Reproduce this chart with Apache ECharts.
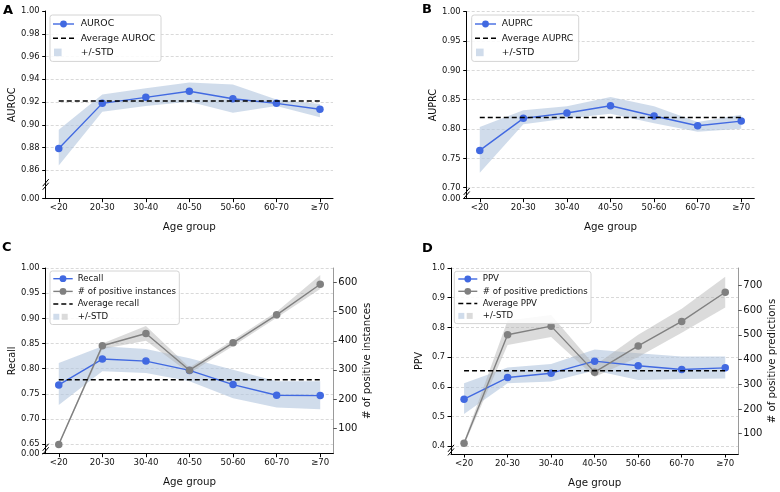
<!DOCTYPE html>
<html><head><meta charset="utf-8">
<script src="https://cdn.jsdelivr.net/npm/echarts@6/dist/echarts.min.js"></script>
<style>html,body{margin:0;padding:0;background:#fff}#c{width:780px;height:492px}</style>
</head><body><div id="c"></div>
<script>
// ---------------- data ----------------
const categories = ['<20', '20-30', '30-40', '40-50', '50-60', '60-70', '≥70'];

const aurocMean  = [0.8791, 0.9188, 0.9241, 0.9294, 0.9229, 0.9188, 0.9136];
const aurocUpper = [0.8956, 0.9267, 0.9320, 0.9371, 0.9354, 0.9223, 0.9182];
const aurocLower = [0.8641, 0.9115, 0.9165, 0.9203, 0.9106, 0.9165, 0.9065];
const aurocAverage = 0.9209;
const aurocTicks = [0.86, 0.88, 0.90, 0.92, 0.94, 0.96, 0.98, 1.00];
const aurocGridlines = [0.86, 0.88, 0.90, 0.92, 0.94, 0.96, 0.98];

const auprcMean  = [0.7636, 0.8182, 0.8273, 0.8398, 0.8222, 0.8057, 0.8136];
const auprcUpper = [0.8034, 0.8320, 0.8390, 0.8545, 0.8390, 0.8120, 0.8244];
const auprcLower = [0.7256, 0.8080, 0.8180, 0.8260, 0.8100, 0.7955, 0.8006];
const auprcAverage = 0.8199;
const auprcTicks = [0.70, 0.75, 0.80, 0.85, 0.90, 0.95, 1.00];
const auprcGridlines = [0.70, 0.75, 0.80, 0.85, 0.90, 0.95, 1.00];

const recallMean  = [0.7679, 0.8192, 0.8152, 0.7967, 0.7685, 0.7474, 0.7467];
const recallUpper = [0.8113, 0.8447, 0.8390, 0.8210, 0.7980, 0.7750, 0.7750];
const recallLower = [0.7281, 0.7950, 0.7914, 0.7750, 0.7414, 0.7228, 0.7195];
const recallAverage = 0.7781;
const recallTicks = [0.65, 0.70, 0.75, 0.80, 0.85, 0.90, 0.95, 1.00];
const recallGridlines = [0.65, 0.70, 0.75, 0.80, 0.85, 0.90, 0.95, 1.00];

const positiveInstances      = [44, 383, 425, 299, 393, 489, 594];
const positiveInstancesUpper = [48, 391, 451, 308, 403, 500, 626];
const positiveInstancesLower = [40, 372, 400, 288, 382, 479, 578];
const instancesTicks = [100, 200, 300, 400, 500, 600];

const ppvMean  = [0.5583, 0.6314, 0.6460, 0.6865, 0.6710, 0.6585, 0.6640];
const ppvUpper = [0.6123, 0.6650, 0.6770, 0.7260, 0.7130, 0.7020, 0.7020];
const ppvLower = [0.5090, 0.6120, 0.6180, 0.6550, 0.6230, 0.6260, 0.6280];
const ppvAverage = 0.654;
const ppvTicks = [0.4, 0.5, 0.6, 0.7, 0.8, 0.9, 1.0];
const ppvGridlines = [0.4, 0.5, 0.6, 0.7, 0.8, 0.9, 1.0];

const positivePredictions      = [61, 500, 535, 349, 455, 554, 672];
const positivePredictionsUpper = [70, 558, 580, 376, 500, 605, 735];
const positivePredictionsLower = [53, 459, 491, 329, 410, 508, 610];
const predictionsTicks = [100, 200, 300, 400, 500, 600, 700];

// ---------------- styling ----------------
const FONT = 'DejaVu Sans';
const TXT = '#111';
const BLUE = '#4169e1';
const GRAY = '#808080';
const BLUE_BAND = 'rgba(176,196,222,0.6)';
const GRAY_BAND = 'rgba(175,175,175,0.45)';
const GRID_COLOR = '#cfcfcf';
const catIdx = categories.map((_, i) => i);

const panels = [
  { letter: 'A', letterPos: [3, 4], grid: { left: 45.7, top: 11, width: 287.3, height: 187.7 },
    yMin: 0.835, yMax: 1.0, ticks: aurocTicks, gridlines: aurocGridlines, digits: 2, zero: '0.00',
    mean: aurocMean, upper: aurocUpper, lower: aurocLower, avg: aurocAverage,
    yName: 'AUROC', yNameSize: 9.6, yNameGap: 26, tickSize: 8.4,
    legend: { x: 50, y: 15, w: 111, rowH: 14.2, first: 9, font: 9.3, iconL: 3, iconR: 24, textX: 30.7,
      labels: ['AUROC', 'Average AUROC', '+/-STD'] } },
  { letter: 'B', letterPos: [422, 3], grid: { left: 466.7, top: 11.7, width: 287.6, height: 187 },
    yMin: 0.6813, yMax: 1.0, ticks: auprcTicks, gridlines: auprcGridlines, digits: 2, zero: '0.00',
    mean: auprcMean, upper: auprcUpper, lower: auprcLower, avg: auprcAverage,
    yName: 'AUPRC', yNameSize: 9.6, yNameGap: 26, tickSize: 8.4,
    legend: { x: 471.7, y: 15, w: 107, rowH: 14.2, first: 9, font: 9.2, iconL: 3.3, iconR: 24.3, textX: 30,
      labels: ['AUPRC', 'Average AUPRC', '+/-STD'] } },
  { letter: 'C', letterPos: [2, 241], grid: { left: 45.7, top: 268, width: 287.6, height: 185.7 },
    yMin: 0.6313, yMax: 1.0, ticks: recallTicks, gridlines: recallGridlines, digits: 2, zero: '0.00',
    mean: recallMean, upper: recallUpper, lower: recallLower, avg: recallAverage,
    yName: 'Recall', yNameSize: 9.6, yNameGap: 26.5, tickSize: 8.4,
    count: positiveInstances, countUpper: positiveInstancesUpper, countLower: positiveInstancesLower,
    rMin: 12, rMax: 650, rTicks: instancesTicks, rName: '# of positive instances',
    legend: { x: 50, y: 271, w: 129.3, rowH: 12.7, first: 7.7, font: 8.6, iconL: 3.3, iconR: 22.7, textX: 27.7,
      labels: ['Recall', '# of positive instances', 'Average recall', '+/-STD'] } },
  { letter: 'D', letterPos: [422, 242], grid: { left: 451, top: 268, width: 287.3, height: 186 },
    yMin: 0.374, yMax: 1.0, ticks: ppvTicks, gridlines: ppvGridlines, digits: 1, zero: '0.0',
    mean: ppvMean, upper: ppvUpper, lower: ppvLower, avg: ppvAverage,
    yName: 'PPV', yNameSize: 9.6, yNameGap: 26.5, tickSize: 8.2,
    count: positivePredictions, countUpper: positivePredictionsUpper, countLower: positivePredictionsLower,
    rMin: 18, rMax: 770, rTicks: predictionsTicks, rName: '# of positive predictions',
    legend: { x: 454.3, y: 271.3, w: 136.7, rowH: 12.3, first: 7.7, font: 8.6, iconL: 4, iconR: 23, textX: 28.4,
      labels: ['PPV', '# of positive predictions', 'Average PPV', '+/-STD'] } }
];

const grids = [], xAxes = [], yAxes = [], series = [];
const leftAxisIndex = [], rightAxisIndex = [];

function bandSeries(g, yIdx, upper, lower, fill, z) {
  return {
    type: 'custom', xAxisIndex: g, yAxisIndex: yIdx, z: z, silent: true, clip: true,
    encode: { x: 0, y: [1, 2] },
    data: upper.map((u, i) => [i, lower[i], u]),
    renderItem: function (params, api) {
      if (params.dataIndex !== 0) return;
      const pts = [];
      for (let i = 0; i < upper.length; i++) pts.push(api.coord([i, upper[i]]));
      for (let i = lower.length - 1; i >= 0; i--) pts.push(api.coord([i, lower[i]]));
      return { type: 'polygon', shape: { points: pts }, style: { fill: fill, stroke: null } };
    }
  };
}

panels.forEach((p, g) => {
  grids.push(Object.assign({ containLabel: false }, p.grid));
  xAxes.push({
    type: 'value', gridIndex: g, min: -0.3, max: 6.3,
    axisLine: { show: true, onZero: false, lineStyle: { color: '#000', width: 1 } },
    axisTick: { show: true, customValues: catIdx, length: 3.5, lineStyle: { color: '#000' } },
    axisLabel: { customValues: catIdx, formatter: v => categories[Math.round(v)], fontSize: 8.6,
      color: TXT, margin: 5, fontFamily: FONT },
    splitLine: { show: false },
    name: 'Age group', nameLocation: 'middle', nameGap: 24,
    nameTextStyle: { fontSize: 10.3, fontFamily: FONT, color: TXT }
  });
  const labelVals = [p.yMin].concat(p.ticks);
  leftAxisIndex.push(yAxes.length);
  yAxes.push({
    type: 'value', gridIndex: g, position: 'left', min: p.yMin, max: p.yMax,
    axisLine: { show: true, onZero: false, lineStyle: { color: '#000', width: 1 } },
    axisTick: { show: true, customValues: labelVals, length: 3.5, lineStyle: { color: '#000' } },
    axisLabel: { customValues: labelVals, fontSize: p.tickSize, color: TXT, margin: 6, fontFamily: FONT,
      formatter: v => (v < p.ticks[0] - 1e-9 ? p.zero : v.toFixed(p.digits)) },
    splitLine: { show: false },
    name: p.yName, nameLocation: 'middle', nameGap: p.yNameGap, nameRotate: 90,
    nameTextStyle: { fontSize: p.yNameSize, fontFamily: FONT, color: TXT }
  });
  const ly = leftAxisIndex[g];
  let ry = null;
  if (p.count) {
    ry = yAxes.length;
    rightAxisIndex[g] = ry;
    yAxes.push({
      type: 'value', gridIndex: g, position: 'right', min: p.rMin, max: p.rMax,
      axisLine: { show: true, onZero: false, lineStyle: { color: '#9a9a9a', width: 1 } },
      axisTick: { show: true, customValues: p.rTicks, length: 3.5, lineStyle: { color: '#555' } },
      axisLabel: { customValues: p.rTicks, fontSize: 10, color: TXT, margin: 5, fontFamily: FONT },
      splitLine: { show: false },
      name: p.rName, nameLocation: 'middle', nameGap: 29, nameRotate: 90,
      nameTextStyle: { fontSize: 10.2, fontFamily: FONT, color: TXT }
    });
  }
  // gridlines holder
  series.push({
    type: 'line', xAxisIndex: g, yAxisIndex: ly, data: [], z: 0, silent: true,
    markLine: { silent: true, symbol: ['none', 'none'], z: 0, animation: false,
      label: { show: false },
      lineStyle: { color: GRID_COLOR, type: [3, 2], width: 0.8 },
      data: p.gridlines.map(v => ({ yAxis: v })) }
  });
  series.push(bandSeries(g, ly, p.upper, p.lower, BLUE_BAND, 1));
  if (p.count) series.push(bandSeries(g, ry, p.countUpper, p.countLower, GRAY_BAND, 1));
  series.push({
    type: 'line', name: p.yName, xAxisIndex: g, yAxisIndex: ly, z: 3,
    data: p.mean.map((v, i) => [i, v]),
    symbol: 'circle', symbolSize: 7.5, itemStyle: { color: BLUE },
    lineStyle: { color: BLUE, width: 1.4 }, animation: false
  });
  if (p.count) {
    series.push({
      type: 'line', name: p.rName, xAxisIndex: g, yAxisIndex: ry, z: 4,
      data: p.count.map((v, i) => [i, v]),
      symbol: 'circle', symbolSize: 7.5, itemStyle: { color: GRAY },
      lineStyle: { color: GRAY, width: 1.4 }, animation: false
    });
  }
  series.push({
    type: 'line', name: 'Average', xAxisIndex: g, yAxisIndex: ly, z: 5,
    data: [[0, p.avg], [categories.length - 1, p.avg]],
    symbol: 'none', lineStyle: { color: '#000', width: 1.5, type: [5, 3] }, animation: false
  });
});

const chart = echarts.init(document.getElementById('c'), null, { renderer: 'canvas' });
chart.setOption({
  animation: false,
  backgroundColor: '#fff',
  textStyle: { fontFamily: FONT },
  grid: grids, xAxis: xAxes, yAxis: yAxes, series: series
});

// ---------------- decorations: letters, legends, axis-break marks ----------------
const graphics = [];
panels.forEach((p, g) => {
  graphics.push({ type: 'text', left: p.letterPos[0], top: p.letterPos[1], z: 100,
    style: { text: p.letter, font: 'bold 13px ' + FONT, fill: '#000' } });

  // axis break mark
  const yA = chart.convertToPixel({ yAxisIndex: leftAxisIndex[g] }, p.yMin);
  const yB = chart.convertToPixel({ yAxisIndex: leftAxisIndex[g] }, p.ticks[0]);
  const xA = p.grid.left;
  const yc = (yA + yB) / 2;
  [-1.8, 1.8].forEach(d => {
    graphics.push({ type: 'line', z: 100, silent: true,
      shape: { x1: xA - 3, y1: yc + d + 3.5, x2: xA + 3, y2: yc + d - 3.5 },
      style: { stroke: '#000', lineWidth: 1 } });
  });

  // legend
  const L = p.legend;
  const n = L.labels.length;
  const h = L.first * 2 + L.rowH * (n - 1);
  graphics.push({ type: 'rect', z: 100, silent: true,
    shape: { x: L.x, y: L.y, width: L.w, height: h, r: 2.5 },
    style: { fill: 'rgba(255,255,255,0.85)', stroke: '#d4d4d4', lineWidth: 1 } });
  const rows = p.count ? ['blue', 'gray', 'dash', 'patch2'] : ['blue', 'dash', 'patch'];
  rows.forEach((kind, r) => {
    const cy = L.y + L.first + r * L.rowH;
    const x1 = L.x + L.iconL, x2 = L.x + L.iconR;
    if (kind === 'blue' || kind === 'gray') {
      const col = kind === 'blue' ? BLUE : GRAY;
      graphics.push({ type: 'line', z: 101, silent: true, shape: { x1: x1, y1: cy, x2: x2, y2: cy },
        style: { stroke: col, lineWidth: 1.4 } });
      graphics.push({ type: 'circle', z: 102, silent: true, shape: { cx: (x1 + x2) / 2, cy: cy, r: 3.4 },
        style: { fill: col } });
    } else if (kind === 'dash') {
      graphics.push({ type: 'line', z: 101, silent: true, shape: { x1: x1, y1: cy, x2: x2, y2: cy },
        style: { stroke: '#000', lineWidth: 1.5, lineDash: [5, 3] } });
    } else if (kind === 'patch') {
      graphics.push({ type: 'rect', z: 101, silent: true, shape: { x: x1 + 1, y: cy - 3.8, width: 7.6, height: 7.6 },
        style: { fill: BLUE_BAND } });
    } else {
      graphics.push({ type: 'rect', z: 101, silent: true, shape: { x: x1, y: cy - 3, width: 6, height: 6 },
        style: { fill: BLUE_BAND } });
      graphics.push({ type: 'rect', z: 101, silent: true, shape: { x: x1 + 8.4, y: cy - 3, width: 6, height: 6 },
        style: { fill: GRAY_BAND } });
    }
    graphics.push({ type: 'text', z: 102, silent: true, x: L.x + L.textX, y: cy,
      style: { text: L.labels[r], font: L.font + 'px ' + FONT, fill: TXT, verticalAlign: 'middle', align: 'left' } });
  });
});
chart.setOption({ graphic: graphics });
</script>
</body></html>
